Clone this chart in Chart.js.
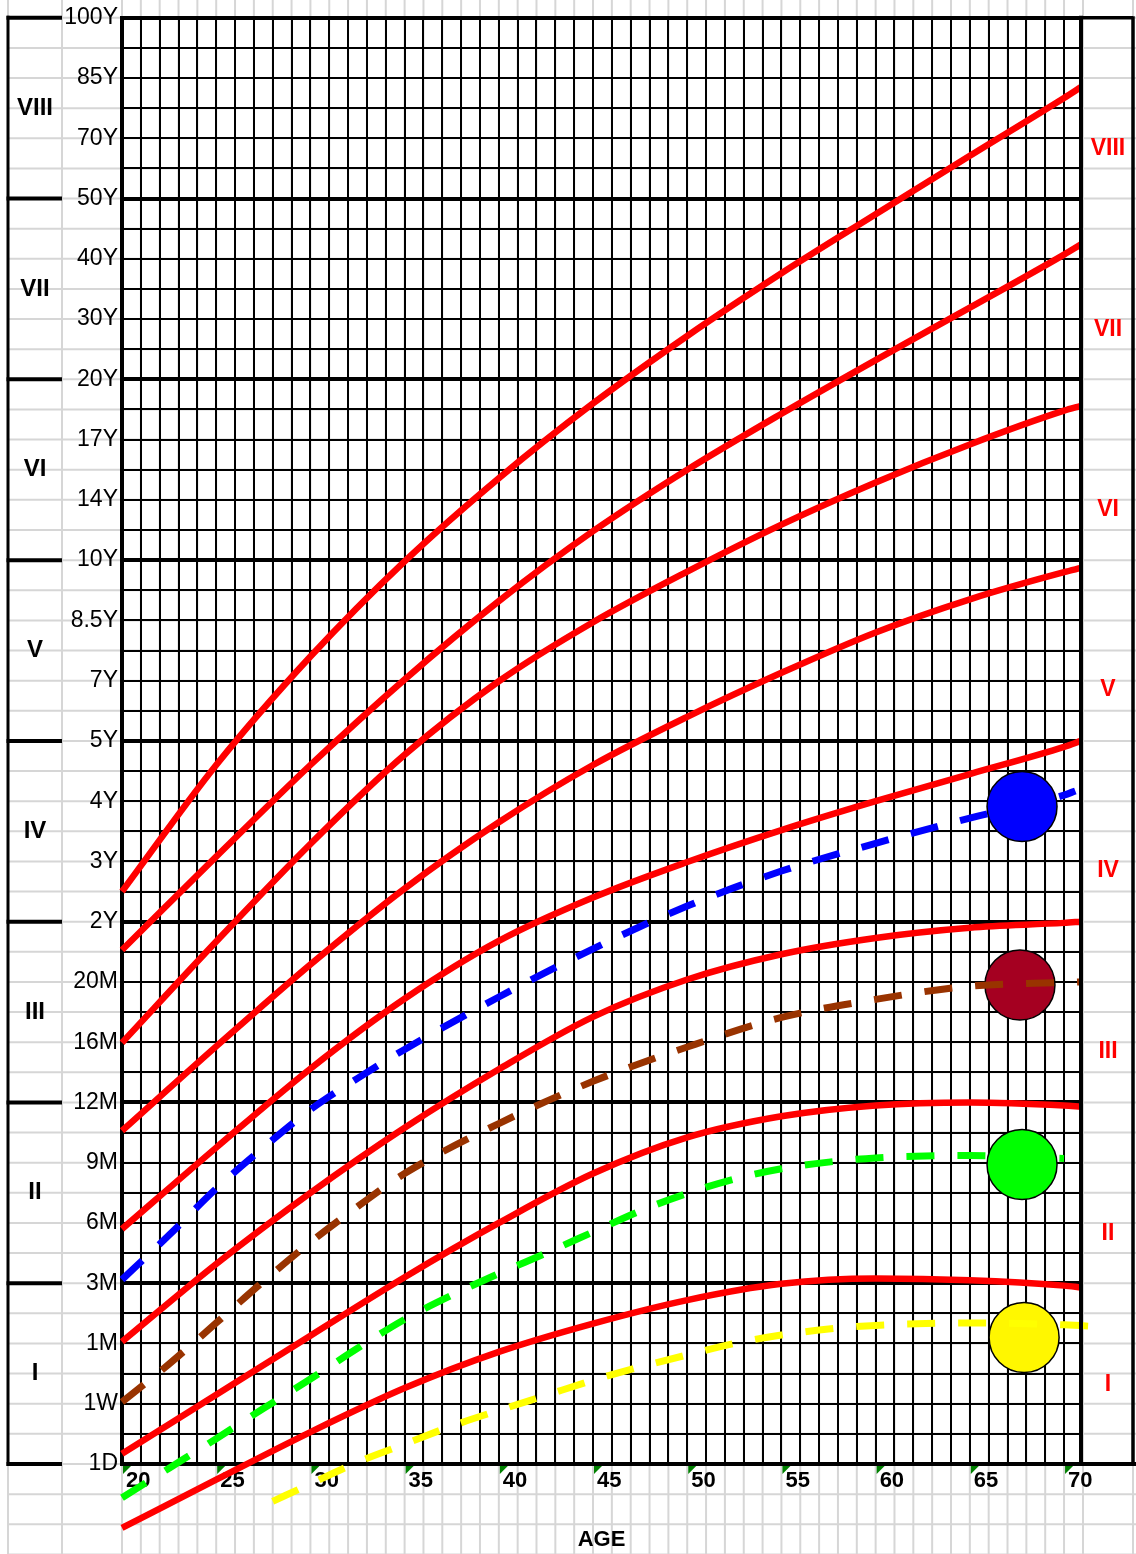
<!DOCTYPE html>
<html>
<head>
<meta charset="utf-8">
<title>Age chart</title>
<script src="https://cdn.jsdelivr.net/npm/chart.js@4.4.1/dist/chart.umd.min.js"></script>
<style>
  html, body { margin: 0; padding: 0; background: #ffffff; overflow: hidden; }
  canvas { display: block; }
</style>
</head>
<body>
<canvas id="c" width="1136" height="1554"></canvas>
<script>
// ---------------- DATA ----------------
const yTickLabels = ['1D','1W','1M','3M','6M','9M','12M','16M','20M','2Y','3Y','4Y','5Y','7Y','8.5Y','10Y','14Y','17Y','20Y','30Y','40Y','50Y','70Y','85Y','100Y'];
const bandLabels = ['I','II','III','IV','V','VI','VII','VIII'];

const redAges = [20, 25, 30, 35, 40, 45, 50, 55, 60, 65, 70, 70.9];
const red1 = [-1.06, -0.26, 0.53, 1.26, 1.86, 2.33, 2.72, 2.99, 3.08, 3.05, 2.96, 2.93];
const red2 = [0.17, 1.15, 2.13, 3.10, 4.00, 4.82, 5.42, 5.77, 5.95, 6.00, 5.95, 5.93];
const red3 = [2.03, 3.32, 4.50, 5.58, 6.55, 7.42, 8.04, 8.46, 8.73, 8.90, 8.98, 9.00];
const red4 = [3.90, 5.25, 6.56, 7.72, 8.68, 9.40, 9.99, 10.52, 11.00, 11.45, 11.90, 12.00];
const red5 = [5.53, 6.93, 8.29, 9.55, 10.65, 11.60, 12.40, 13.13, 13.80, 14.35, 14.80, 14.87];
const red6 = [6.99, 8.67, 10.29, 11.77, 12.99, 13.97, 14.81, 15.59, 16.29, 16.92, 17.48, 17.56];
const red7 = [8.53, 10.08, 11.60, 13.02, 14.32, 15.48, 16.50, 17.43, 18.32, 19.19, 20.07, 20.24];
const red8 = [9.50, 11.60, 13.40, 14.98, 16.36, 17.60, 18.72, 19.76, 20.74, 21.71, 22.67, 22.85];

const blueAges = [20, 22.5, 25, 27.5, 30, 32.5, 35, 40, 45, 50, 55, 60, 65, 70, 70.6];
const blueValues = [3.06, 3.80, 4.57, 5.25, 5.88, 6.40, 6.88, 7.75, 8.55, 9.26, 9.84, 10.30, 10.72, 11.10, 11.17];

const brownAges = [20, 22.5, 25, 27.5, 30, 32.5, 35, 40, 45, 50, 55, 60, 65, 70, 70.9];
const brownValues = [1.03, 1.66, 2.34, 3.03, 3.68, 4.27, 4.82, 5.65, 6.35, 6.92, 7.41, 7.71, 7.93, 7.99, 8.00];

const greenAges = [20, 22.5, 25, 27.5, 30, 32.5, 35, 37.5, 40, 42.5, 45, 47.5, 50, 52.5, 55, 57.5, 60, 65, 70];
const greenValues = [-0.56, -0.07, 0.42, 0.92, 1.41, 1.92, 2.40, 2.80, 3.16, 3.50, 3.85, 4.20, 4.49, 4.73, 4.90, 5.01, 5.08, 5.12, 5.07];

const yellowAges = [28, 30, 32.5, 35, 37.5, 40, 42.5, 45, 47.5, 50, 52.5, 55, 57.5, 60, 65, 70, 72.2];
const yellowValues = [-0.62, -0.33, 0.03, 0.33, 0.63, 0.89, 1.14, 1.39, 1.61, 1.81, 2.00, 2.14, 2.24, 2.30, 2.34, 2.31, 2.27];

const circleAges = [67.77, 67.66, 67.77, 67.88];
const circleValues = [10.91, 7.95, 4.97, 2.10];
const circleColors = ['#0000ff', '#a50021', '#00ff00', '#fff700'];

// ---------------- CHART ----------------
const FONT = "'Liberation Sans', Arial, Helvetica, sans-serif";
Chart.defaults.font.family = FONT;
Chart.defaults.color = '#000';

const pts = (xs, ys) => xs.map((x, i) => ({ x: x, y: ys[i] }));

const redSeries = [red1, red2, red3, red4, red5, red6, red7, red8];
const datasets = [];
redSeries.forEach((vals, i) => {
  datasets.push({
    label: 'Boundary ' + (i + 1),
    data: pts(redAges, vals),
    borderColor: '#ff0000',
    borderWidth: 6.5,
    pointRadius: 0,
    cubicInterpolationMode: 'monotone',
    fill: false,
    clip: false,
    order: 1
  });
});
const dashed = [
  ['Blue', blueAges, blueValues, '#0000ff'],
  ['Brown', brownAges, brownValues, '#993300'],
  ['Green', greenAges, greenValues, '#00ff00'],
  ['Yellow', yellowAges, yellowValues, '#ffff00']
];
dashed.forEach(d => {
  datasets.push({
    label: d[0],
    data: pts(d[1], d[2]),
    borderColor: d[3],
    borderWidth: 7,
    borderDash: [28, 23],
    borderCapStyle: 'butt',
    pointRadius: 0,
    cubicInterpolationMode: 'monotone',
    fill: false,
    clip: false,
    order: 2
  });
});
datasets.push({
  type: 'scatter',
  label: 'Markers',
  data: pts(circleAges, circleValues),
  showLine: false,
  pointRadius: 35,
  pointHoverRadius: 35,
  pointBackgroundColor: circleColors,
  pointBorderColor: '#000',
  pointBorderWidth: 1.5,
  clip: false,
  order: 3
});

const sheetPlugin = {
  id: 'sheet',
  beforeDraw(chart) {
    const { ctx, chartArea: ca, scales } = chart;
    const x = scales.x, y = scales.y;
    const W = chart.width, H = chart.height;
    ctx.save();
    ctx.fillStyle = '#ffffff';
    ctx.fillRect(0, 0, W, H);
    ctx.strokeStyle = '#d6d6d6';
    ctx.lineWidth = 2;
    const xs = [8, 62];
    for (let a = 20; a <= 70; a++) xs.push(x.getPixelForValue(a));
    xs.push(ca.right + 2, 1133);
    xs.forEach(px => {
      ctx.beginPath(); ctx.moveTo(px, 0); ctx.lineTo(px, H); ctx.stroke();
    });
    for (let v = -3; v <= 24; v += 0.5) {
      const py = y.getPixelForValue(v);
      ctx.beginPath(); ctx.moveTo(8, py); ctx.lineTo(W, py); ctx.stroke();
    }
    ctx.restore();
  },
  afterDraw(chart) {
    const { ctx, chartArea: ca, scales } = chart;
    const x = scales.x, y = scales.y;
    ctx.save();
    ctx.strokeStyle = '#000';
    // left band box
    ctx.lineWidth = 3;
    ctx.beginPath(); ctx.moveTo(8, y.getPixelForValue(24) - 2); ctx.lineTo(8, y.getPixelForValue(0) + 2); ctx.stroke();
    ctx.lineWidth = 4;
    for (let v = 0; v <= 24; v += 3) {
      const py = y.getPixelForValue(v);
      ctx.beginPath(); ctx.moveTo(6.5, py); ctx.lineTo(62, py); ctx.stroke();
    }
    // right border of plot + right box
    ctx.lineWidth = 4;
    ctx.beginPath(); ctx.moveTo(ca.right, ca.top - 2); ctx.lineTo(ca.right, ca.bottom + 2); ctx.stroke();
    ctx.lineWidth = 3.5;
    ctx.beginPath(); ctx.moveTo(ca.right, ca.top); ctx.lineTo(1133, ca.top); ctx.stroke();
    ctx.beginPath(); ctx.moveTo(1133, ca.top - 1.5); ctx.lineTo(1133, ca.bottom); ctx.stroke();
    ctx.lineWidth = 4;
    ctx.beginPath(); ctx.moveTo(ca.right, ca.bottom); ctx.lineTo(1136, ca.bottom); ctx.stroke();

    // green indicator triangles at labelled ticks
    ctx.fillStyle = '#008000';
    for (let a = 20; a <= 70; a += 5) {
      const px = x.getPixelForValue(a);
      const py = ca.bottom + 2;
      ctx.beginPath(); ctx.moveTo(px + 1, py); ctx.lineTo(px + 9, py); ctx.lineTo(px + 1, py + 8); ctx.closePath(); ctx.fill();
    }

    // band labels
    ctx.textAlign = 'center';
    ctx.textBaseline = 'middle';
    ctx.fillStyle = '#000';
    ctx.font = 'bold 24px ' + FONT;
    bandLabels.forEach((t, i) => {
      ctx.fillText(t, 35, y.getPixelForValue(1.5 + 3 * i));
    });
    const rightPos = [1.32, 3.83, 6.84, 9.84, 12.85, 15.83, 18.83, 21.83];
    ctx.fillStyle = '#ff0000';
    ctx.font = 'bold 23px ' + FONT;
    bandLabels.forEach((t, i) => {
      ctx.fillText(t, 1108, y.getPixelForValue(rightPos[i]));
    });
    ctx.restore();
  }
};

new Chart(document.getElementById('c'), {
  type: 'line',
  data: { datasets: datasets },
  options: {
    responsive: false,
    animation: false,
    events: [],
    layout: { autoPadding: false, padding: { top: 16, right: 55, left: 0, bottom: 0 } },
    plugins: { legend: { display: false }, tooltip: { enabled: false } },
    scales: {
      x: {
        type: 'linear',
        min: 20,
        max: 70.9,
        afterFit: s => { s.height = 90; },
        ticks: {
          stepSize: 1,
          autoSkip: false,
          maxRotation: 0,
          minRotation: 0,
          includeBounds: false,
          align: 'start',
          labelOffset: 4,
          padding: 4,
          color: '#000',
          font: { size: 22, weight: 'bold' },
          callback: v => (v % 5 === 0 ? String(v) : '')
        },
        grid: { color: '#000', lineWidth: 2, drawTicks: false },
        border: { display: true, color: '#000', width: 4 },
        title: {
          display: true,
          text: 'AGE',
          color: '#000',
          font: { size: 22, weight: 'bold' },
          padding: { top: 0, bottom: 1 }
        }
      },
      y: {
        type: 'linear',
        min: 0,
        max: 24,
        afterFit: s => { s.width = 122; },
        ticks: {
          stepSize: 0.5,
          autoSkip: false,
          padding: 4,
          color: '#000',
          font: { size: 23 },
          callback: v => (Number.isInteger(v) ? yTickLabels[v] : '')
        },
        grid: {
          color: '#000',
          lineWidth: c => (c.tick && c.tick.value % 3 === 0 ? 4 : 2),
          drawTicks: false
        },
        border: { display: true, color: '#000', width: 4 }
      }
    }
  },
  plugins: [sheetPlugin]
});
</script>
</body>
</html>
